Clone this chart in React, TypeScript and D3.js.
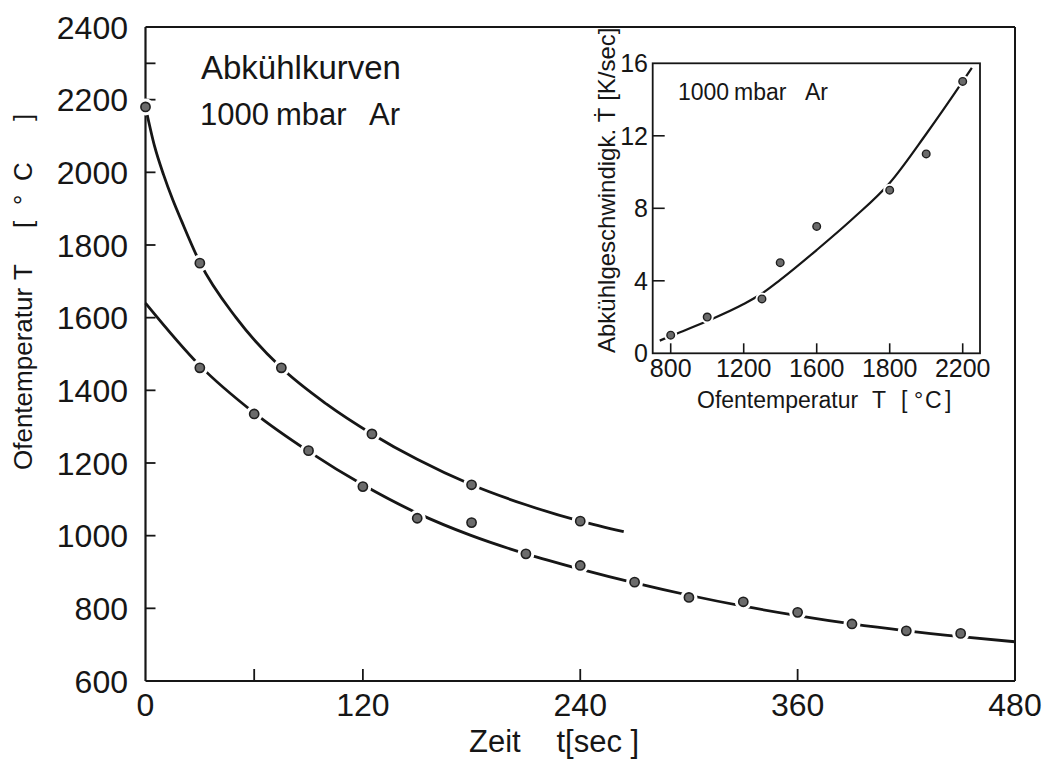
import React from "react";
import * as d3 from "d3";

// ---------- Main chart data ----------
const mainXTickValues = [60, 120, 240, 360];
const mainXLabels = [0, 120, 240, 360, 480];
const mainYTickValues = [800, 1000, 1200, 1400, 1600, 1800, 2000, 2200, 2300];
const mainYLabels = [600, 800, 1000, 1200, 1400, 1600, 1800, 2000, 2200, 2400];

// upper cooling curve (measured points)
const upperTimes = [0, 30, 75, 125, 180, 240];
const upperTemps = [2180, 1750, 1462, 1280, 1140, 1040];
// upper fitted curve
const upperCurveTimes = [0, 5, 10, 15, 20, 30, 50, 75, 100, 125, 150, 180, 210, 240, 264];
const upperCurveTemps = [2180, 2072, 1993, 1925, 1865, 1752, 1600, 1462, 1362, 1280, 1210, 1140, 1085, 1040, 1011];

// lower cooling curve (measured points)
const lowerTimes = [30, 60, 90, 120, 150, 180, 210, 240, 270, 300, 330, 360, 390, 420, 450];
const lowerTemps = [1462, 1335, 1234, 1135, 1048, 1036, 950, 918, 872, 830, 818, 789, 757, 738, 731];
// lower fitted curve
const lowerCurveTimes = [0, 30, 60, 90, 120, 150, 180, 210, 240, 270, 300, 330, 360, 390, 420, 450, 480];
const lowerCurveTemps = [1640, 1468, 1338, 1232, 1140, 1062, 1000, 950, 908, 870, 836, 806, 780, 757, 738, 722, 708];

// ---------- Inset data ----------
const insetXTicks = [800, 1200, 1600, 1800, 2200];
const insetYTicks = [0, 4, 8, 12, 16];
const insetPointTemps = [800, 1000, 1300, 1400, 1600, 1800, 2000, 2200];
const insetPointRates = [1.0, 2.0, 3.0, 5.0, 7.0, 9.0, 11.0, 15.0];
const insetCurveTemps = [740, 800, 1000, 1200, 1300, 1400, 1600, 1700, 1800, 2000, 2200, 2250];
const insetCurveRates = [0.7, 0.95, 1.78, 2.72, 3.3, 4.05, 5.7, 7.45, 9.4, 12.1, 15.0, 15.75];

const FONT = "'Liberation Sans', Arial, sans-serif";
const NARROW = "'Liberation Sans Narrow', 'Liberation Sans', Arial, sans-serif";
const INK = "#161616";

export default function App() {
  const W = 1043;
  const H = 760;

  // main scales
  const x = d3.scaleLinear().domain([0, 480]).range([145.5, 1015]);
  const y = d3.scaleLinear().domain([600, 2400]).range([681, 27]);

  const line = d3
    .line<[number, number]>()
    .x((d) => x(d[0]))
    .y((d) => y(d[1]))
    .curve(d3.curveMonotoneX);

  const upperCurve = upperCurveTimes.map((t, i) => [t, upperCurveTemps[i]] as [number, number]);
  const lowerCurve = lowerCurveTimes.map((t, i) => [t, lowerCurveTemps[i]] as [number, number]);
  const upperPts = upperTimes.map((t, i) => [t, upperTemps[i]]);
  const lowerPts = lowerTimes.map((t, i) => [t, lowerTemps[i]]);

  // inset scales (non-uniform labelled axis -> polylinear)
  const ix = d3
    .scaleLinear()
    .domain(insetXTicks)
    .range(insetXTicks.map((_, i) => 670.7 + i * 73));
  const iy = d3.scaleLinear().domain([0, 16]).range([353.3, 63.3]);
  const insetLeft = 652.7;
  const insetRight = 980;

  const iline = d3
    .line<[number, number]>()
    .x((d) => ix(d[0]))
    .y((d) => iy(d[1]))
    .curve(d3.curveMonotoneX);
  const insetCurve = insetCurveTemps.map((t, i) => [t, insetCurveRates[i]] as [number, number]);
  const insetPts = insetPointTemps.map((t, i) => [t, insetPointRates[i]]);

  const x0 = x(0), x1 = x(480), yTop = y(2400), yBot = y(600);

  return (
    <svg
      width={W}
      height={H}
      viewBox={`0 0 ${W} ${H}`}
      style={{ position: "absolute", left: 0, top: 0, background: "#fff" }}
      fontFamily={FONT}
    >
      <defs>
        <clipPath id="insetClip">
          <rect x={0} y={yTop + 1} width={W} height={H} />
        </clipPath>
      </defs>
      <rect x={0} y={0} width={W} height={H} fill="#fff" />

      {/* main frame */}
      <g stroke={INK} strokeWidth={2} fill="none">
        <line x1={x0} y1={yTop} x2={x1} y2={yTop} />
        <line x1={x1} y1={yTop} x2={x1} y2={yBot} />
        <line x1={x0} y1={yTop} x2={x0} y2={yBot} strokeWidth={2.2} />
        <line x1={x0} y1={yBot} x2={x1} y2={yBot} strokeWidth={2.2} />
      </g>

      {/* main ticks */}
      <g stroke={INK} strokeWidth={1.8}>
        {mainYTickValues.map((v) => (
          <line key={"yt" + v} x1={x0} x2={x0 + 10} y1={y(v)} y2={y(v)} />
        ))}
        {mainXTickValues.map((v) => (
          <line key={"xt" + v} x1={x(v)} x2={x(v)} y1={yBot} y2={yBot - 12} />
        ))}
      </g>

      {/* main tick labels */}
      <g fill={INK} fontSize={32}>
        {mainYLabels.map((v) => (
          <text key={"yl" + v} x={128} y={y(v)} dy="0.36em" textAnchor="end">
            {v}
          </text>
        ))}
        {mainXLabels.map((v) => (
          <text key={"xl" + v} x={x(v)} y={716} textAnchor="middle">
            {v}
          </text>
        ))}
      </g>

      {/* axis titles */}
      <text x={469} y={752} fontSize={31} fill={INK}>
        Zeit
      </text>
      <text x={556.5} y={752} fontSize={31} fill={INK} style={{ whiteSpace: "pre" }}>
        t[sec ]
      </text>
      <text transform="translate(31.5, 470) rotate(-90)" fontSize={26} fill={INK}>
        <tspan x={0}>Ofentemperatur</tspan>
        <tspan x={190}>T</tspan>
        <tspan x={242}>[</tspan>
        <tspan x={265}>°</tspan>
        <tspan x={289}>C</tspan>
        <tspan x={349}>]</tspan>
      </text>

      {/* annotation */}
      <text x={201} y={79} fontSize={33} fill={INK}>
        Abkühlkurven
      </text>
      <text y={125} fontSize={31} fill={INK}>
        <tspan x={200}>1000</tspan>
        <tspan x={276}>mbar</tspan>
        <tspan x={369}>Ar</tspan>
      </text>

      {/* main curves */}
      <g fill="none" stroke={INK} strokeWidth={2.8} strokeLinecap="butt">
        <path d={line(upperCurve) || ""} />
        <path d={line(lowerCurve) || ""} />
      </g>
      {/* gaps around points */}
      <g fill="#fff">
        {[...upperPts, ...lowerPts].map((p, i) => (
          <circle key={"h" + i} cx={x(p[0])} cy={y(p[1])} r={8.5} />
        ))}
      </g>
      <g fill="#6b6b6b" stroke="#1e1e1e" strokeWidth={1.6}>
        {[...upperPts, ...lowerPts].map((p, i) => (
          <circle key={"p" + i} cx={x(p[0])} cy={y(p[1])} r={4.6} />
        ))}
      </g>

      {/* ---------- inset ---------- */}
      <rect
        x={insetLeft}
        y={iy(16)}
        width={insetRight - insetLeft}
        height={iy(0) - iy(16)}
        fill="none"
        stroke={INK}
        strokeWidth={1.8}
      />
      <g stroke={INK} strokeWidth={1.6}>
        {insetYTicks.slice(1, -1).map((v) => (
          <line key={"iyt" + v} x1={insetLeft} x2={insetLeft + 12} y1={iy(v)} y2={iy(v)} />
        ))}
        {insetXTicks.map((v) => (
          <line key={"ixt" + v} x1={ix(v)} x2={ix(v)} y1={iy(0)} y2={iy(0) - 10} />
        ))}
      </g>
      <g fill={INK} fontSize={25} fontFamily={NARROW}>
        {insetYTicks.map((v) => (
          <text key={"iyl" + v} x={648} y={iy(v)} dy="0.36em" textAnchor="end">
            {v}
          </text>
        ))}
        {insetXTicks.map((v) => (
          <text key={"ixl" + v} x={ix(v)} y={377} textAnchor="middle">
            {v}
          </text>
        ))}
      </g>
      <text y={408} fontSize={23} fill={INK}>
        <tspan x={697}>Ofentemperatur</tspan>
        <tspan x={872}>T</tspan>
        <tspan x={901}>[</tspan>
        <tspan x={914}>°</tspan>
        <tspan x={925}>C</tspan>
        <tspan x={945}>]</tspan>
      </text>
      <g clipPath="url(#insetClip)">
        <text transform="translate(615, 353) rotate(-90)" fontSize={24} fill={INK} style={{ whiteSpace: "pre" }}>
          Abkühlgeschwindigk. Ṫ [K/sec]
        </text>
      </g>
      <text y={100} fontSize={23} fill={INK}>
        <tspan x={678}>1000</tspan>
        <tspan x={734}>mbar</tspan>
        <tspan x={805}>Ar</tspan>
      </text>

      <path d={iline(insetCurve) || ""} fill="none" stroke={INK} strokeWidth={2.2} />
      <g fill="#fff">
        {insetPts.map((p, i) => (
          <circle key={"ih" + i} cx={ix(p[0])} cy={iy(p[1])} r={6.5} />
        ))}
      </g>
      <g fill="#6b6b6b" stroke="#1e1e1e" strokeWidth={1.4}>
        {insetPts.map((p, i) => (
          <circle key={"ip" + i} cx={ix(p[0])} cy={iy(p[1])} r={3.8} />
        ))}
      </g>
    </svg>
  );
}
